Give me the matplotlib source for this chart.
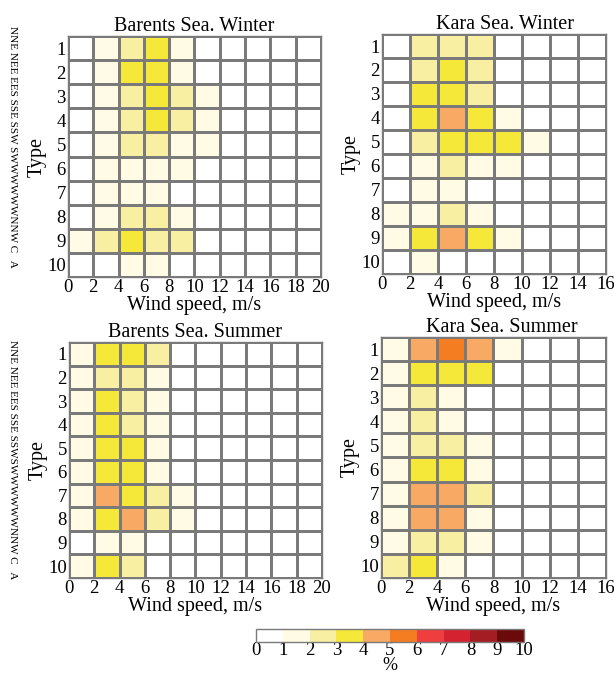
import numpy as np
import matplotlib
matplotlib.use('Agg')
import matplotlib.pyplot as plt
from matplotlib.colors import ListedColormap, BoundaryNorm

plt.rcParams['font.family'] = ['Liberation Serif', 'DejaVu Serif']

types = [1, 2, 3, 4, 5, 6, 7, 8, 9, 10]
speed_barents = np.arange(0, 22, 2)   # bin edges 0..20
speed_kara = np.arange(0, 18, 2)      # bin edges 0..16

# frequency, %, rows = type 1..10, columns = wind speed bins
barents_winter = [
    [0.0, 1.5, 2.5, 3.5, 1.5, 0, 0, 0, 0, 0],
    [0.0, 1.5, 3.5, 3.5, 1.5, 0, 0, 0, 0, 0],
    [0.0, 1.5, 2.5, 3.5, 2.5, 1.5, 0, 0, 0, 0],
    [0.0, 1.5, 2.5, 3.5, 2.5, 1.5, 0, 0, 0, 0],
    [0.0, 1.5, 2.5, 2.5, 1.5, 1.5, 0, 0, 0, 0],
    [0.0, 1.5, 1.5, 1.5, 1.5, 0, 0, 0, 0, 0],
    [0.0, 1.5, 1.5, 1.5, 0, 0, 0, 0, 0, 0],
    [0.0, 1.5, 2.5, 2.5, 1.5, 0, 0, 0, 0, 0],
    [1.5, 2.5, 3.5, 2.5, 2.5, 0, 0, 0, 0, 0],
    [0.0, 0.0, 1.5, 1.5, 0, 0, 0, 0, 0, 0],
]
kara_winter = [
    [0.0, 2.5, 2.5, 2.5, 0, 0, 0, 0],
    [0.0, 2.5, 3.5, 2.5, 0, 0, 0, 0],
    [0.0, 3.5, 3.5, 2.5, 0, 0, 0, 0],
    [0.0, 3.5, 4.5, 3.5, 1.5, 0, 0, 0],
    [0.0, 2.5, 3.5, 3.5, 3.5, 1.5, 0, 0],
    [0.0, 1.5, 2.5, 1.5, 1.5, 0, 0, 0],
    [0.0, 1.5, 1.5, 0, 0, 0, 0, 0],
    [1.5, 1.5, 2.5, 1.5, 0, 0, 0, 0],
    [1.5, 3.5, 4.5, 3.5, 1.5, 0, 0, 0],
    [0.0, 1.5, 0, 0, 0, 0, 0, 0],
]
barents_summer = [
    [1.5, 3.5, 3.5, 2.5, 0, 0, 0, 0, 0, 0],
    [1.5, 2.5, 2.5, 1.5, 0, 0, 0, 0, 0, 0],
    [1.5, 3.5, 2.5, 1.5, 0, 0, 0, 0, 0, 0],
    [1.5, 3.5, 2.5, 1.5, 0, 0, 0, 0, 0, 0],
    [1.5, 3.5, 3.5, 1.5, 0, 0, 0, 0, 0, 0],
    [1.5, 3.5, 3.5, 1.5, 0, 0, 0, 0, 0, 0],
    [1.5, 4.5, 3.5, 2.5, 1.5, 0, 0, 0, 0, 0],
    [1.5, 3.5, 4.5, 2.5, 1.5, 0, 0, 0, 0, 0],
    [0.0, 1.5, 1.5, 0, 0, 0, 0, 0, 0, 0],
    [1.5, 3.5, 2.5, 0, 0, 0, 0, 0, 0, 0],
]
kara_summer = [
    [1.5, 4.5, 5.5, 4.5, 1.5, 0, 0, 0],
    [1.5, 3.5, 3.5, 3.5, 0, 0, 0, 0],
    [1.5, 2.5, 1.5, 0, 0, 0, 0, 0],
    [1.5, 2.5, 1.5, 0, 0, 0, 0, 0],
    [1.5, 2.5, 2.5, 1.5, 0, 0, 0, 0],
    [1.5, 3.5, 3.5, 1.5, 0, 0, 0, 0],
    [1.5, 4.5, 4.5, 2.5, 0, 0, 0, 0],
    [1.5, 4.5, 4.5, 1.5, 0, 0, 0, 0],
    [1.5, 2.5, 2.5, 1.5, 0, 0, 0, 0],
    [2.5, 3.5, 1.5, 0, 0, 0, 0, 0],
]

levels = list(range(0, 11))
colors = ['#ffffff', '#fffbe4', '#f8efa2', '#f5e838', '#f8aa64',
          '#f47d22', '#ee3e3e', '#d42231', '#a31d22', '#6b0a0a']
cmap = ListedColormap(colors)
norm = BoundaryNorm(levels, cmap.N)

side_text = "NNE NEE EES SSE SSW SWWWWWWNNW C   A"

fig = plt.figure(figsize=(6.14, 6.76), dpi=100)

panels = [
    ("Barents Sea. Winter", barents_winter, speed_barents, [0.1107, 0.5902, 0.412, 0.3565], 0.5),
    ("Kara Sea. Winter", kara_winter, speed_kara, [0.6221, 0.5947, 0.3648, 0.355], 0.55),
    ("Barents Sea. Summer", barents_summer, speed_barents, [0.1124, 0.145, 0.412, 0.349], 0.5),
    ("Kara Sea. Summer", kara_summer, speed_kara, [0.6205, 0.145, 0.3664, 0.3565], 0.535),
]

for title, data, edges, rect, tx in panels:
    ax = fig.add_axes(rect)
    yedges = np.arange(0.5, len(types) + 1, 1)
    ax.pcolormesh(edges, yedges, np.array(data), cmap=cmap, norm=norm,
                  edgecolor='#7a7a7a', linewidth=1.0)
    ax.set_xlim(edges[0], edges[-1])
    ax.set_ylim(yedges[-1], yedges[0])
    ax.set_xticks(edges)
    ax.set_yticks(types)
    ax.tick_params(length=0, labelsize=13.5, pad=1.5)
    for s in ax.spines.values():
        s.set_color('#7a7a7a')
        s.set_linewidth(1.0)
    ax.set_title(title, fontsize=14.5, pad=3, x=tx)
    ax.set_xlabel("Wind speed, m/s", fontsize=14.5, labelpad=0)
    ax.set_ylabel("Type", fontsize=14.5, labelpad=0)

fig.text(0.02, 0.782, side_text, rotation=270, fontsize=8, ha='center', va='center')
fig.text(0.02, 0.32, side_text.replace("SSW SW", "SSWSW"), rotation=270, fontsize=8,
         ha='center', va='center')

cax = fig.add_axes([0.417, 0.051, 0.4365, 0.0178])
cb = fig.colorbar(matplotlib.cm.ScalarMappable(norm=norm, cmap=cmap), cax=cax,
                  orientation='horizontal', ticks=levels)
cb.outline.set_edgecolor('#7a7a7a')
cb.outline.set_linewidth(1.0)
cax.tick_params(length=0, labelsize=13.5, pad=0)
cb.set_label('%', fontsize=13, labelpad=-1)

plt.savefig("out.png", dpi=100)
